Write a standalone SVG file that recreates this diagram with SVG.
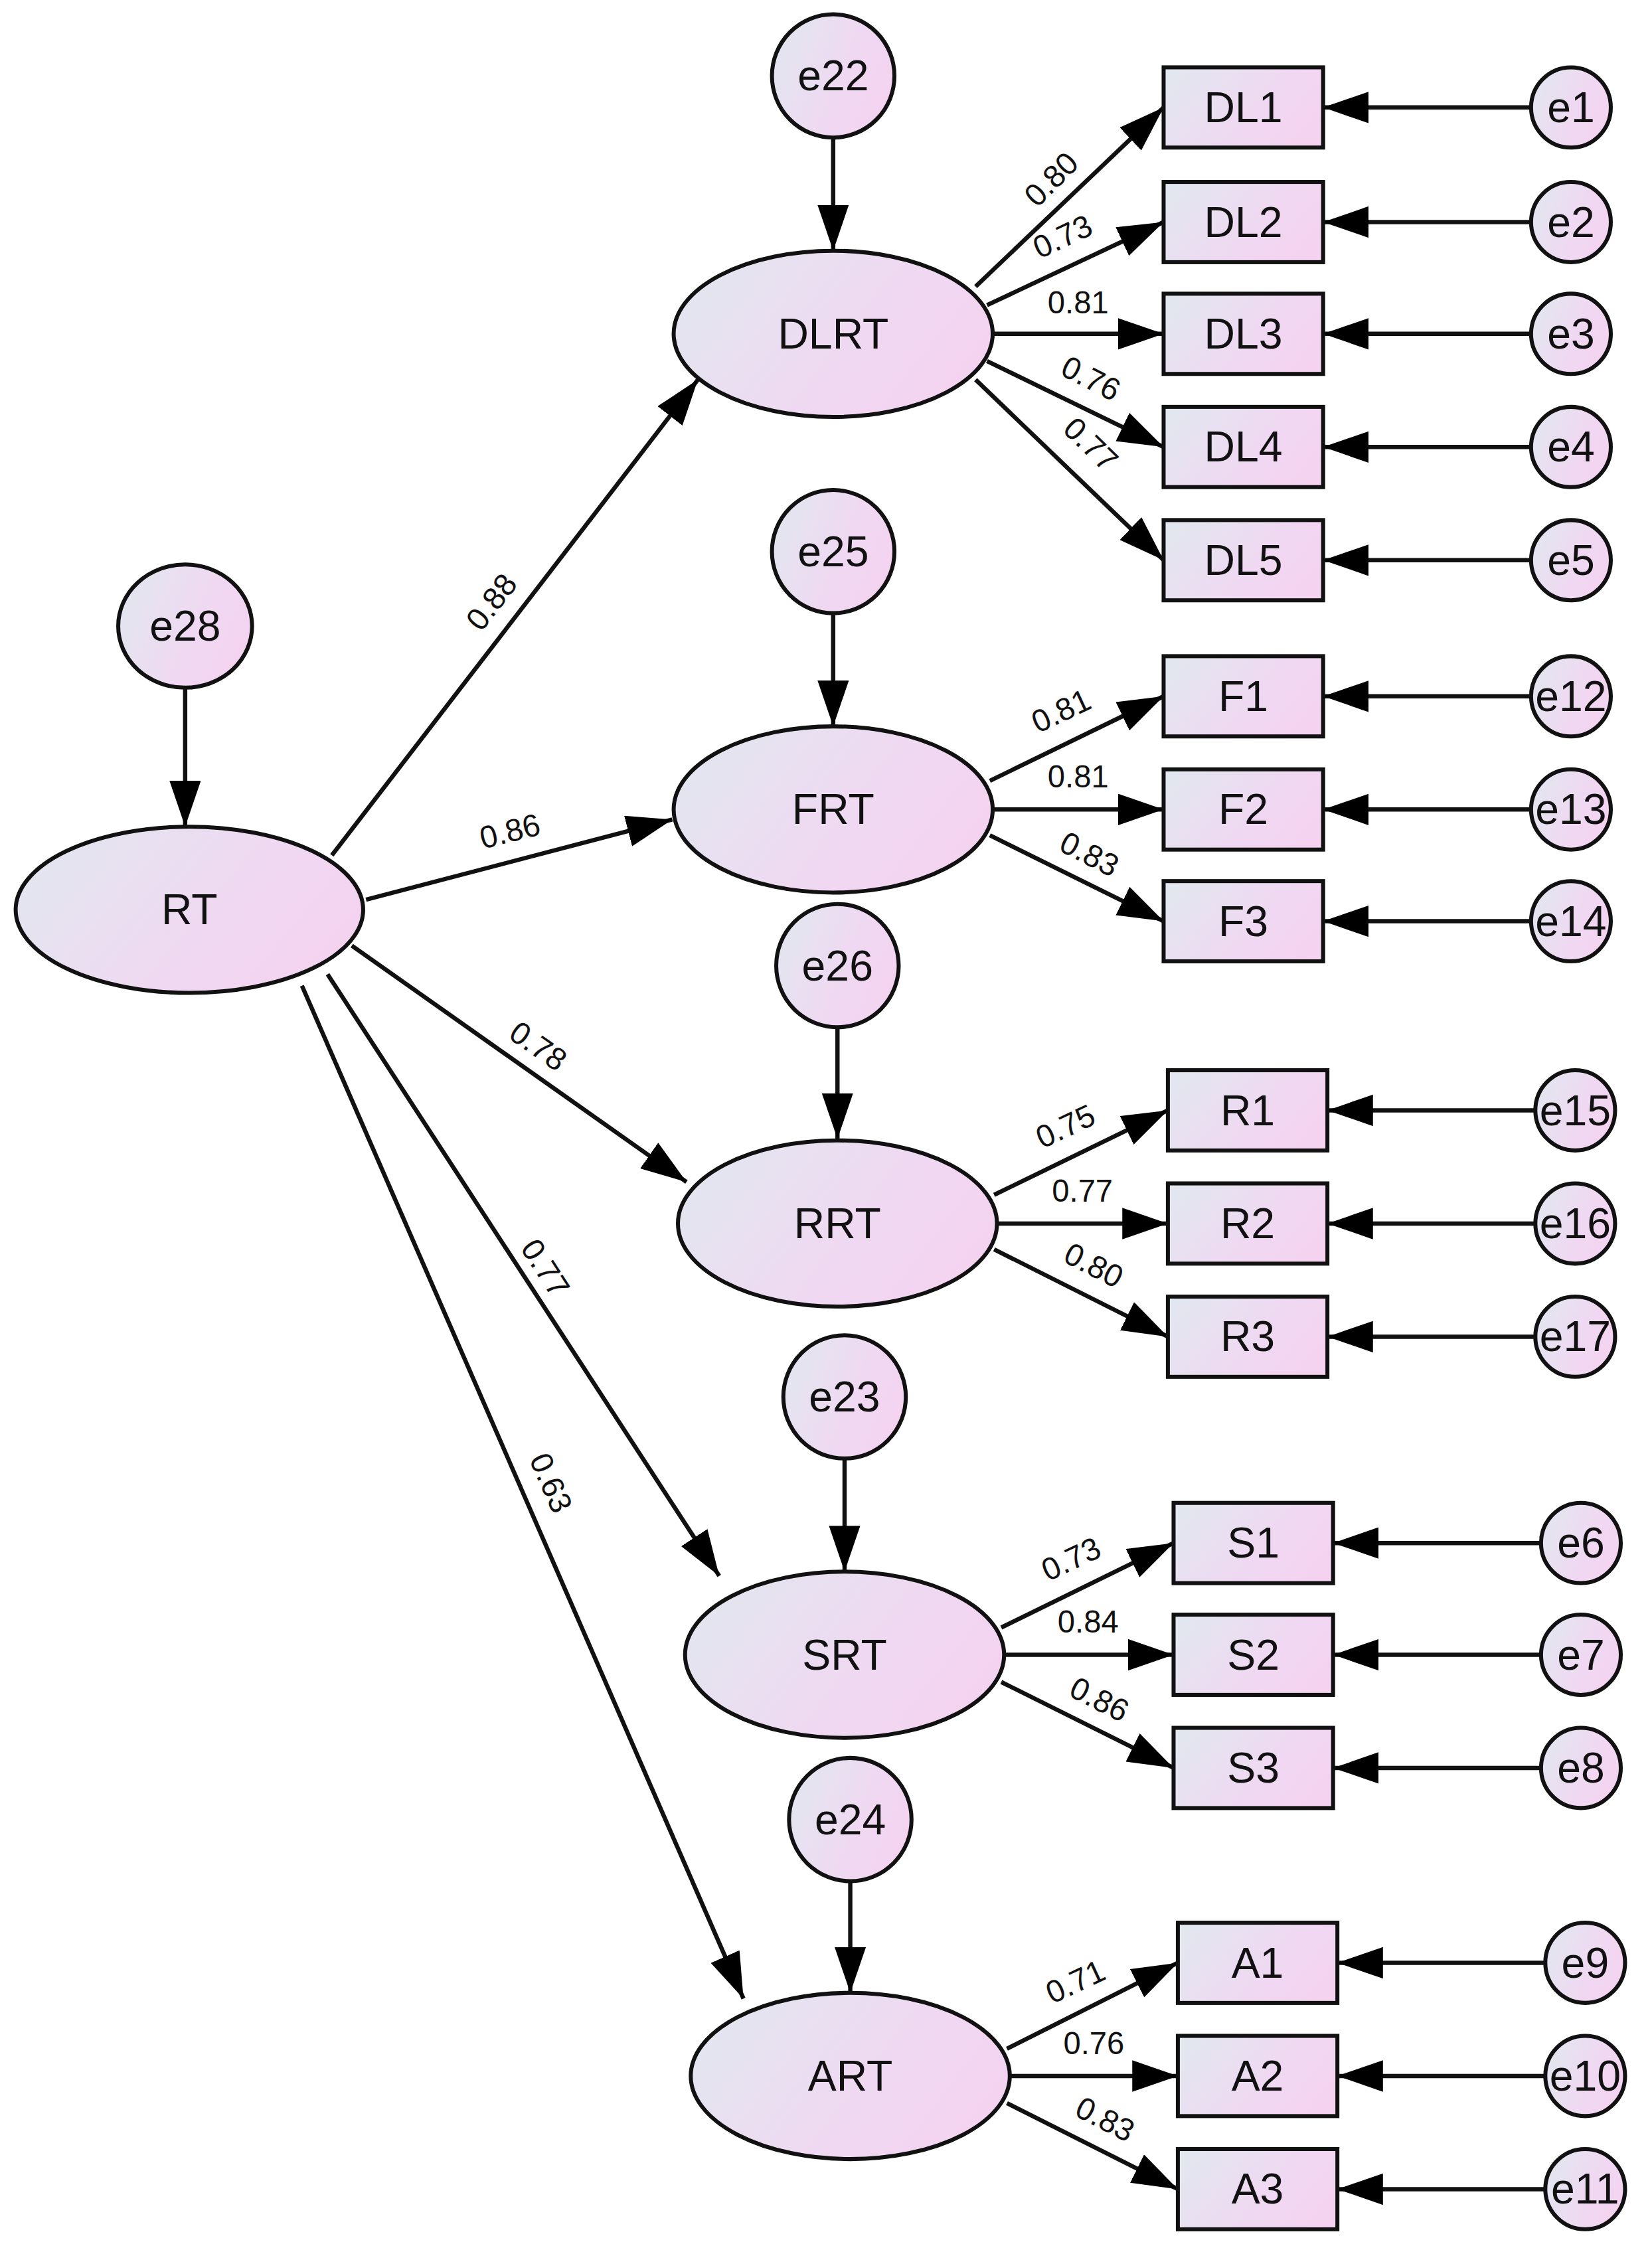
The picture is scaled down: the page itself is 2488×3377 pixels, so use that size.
<svg xmlns="http://www.w3.org/2000/svg" width="2488" height="3377" viewBox="0 0 2488 3377">
<defs>
<linearGradient id="g" x1="0" y1="0.3" x2="1" y2="0.7"><stop offset="0" stop-color="#e2e6ef"/><stop offset="0.6" stop-color="#f0d8f2"/><stop offset="1" stop-color="#f4d2f0"/></linearGradient>
<marker id="a" markerUnits="userSpaceOnUse" markerWidth="34" markerHeight="24" refX="32" refY="11" orient="auto"><path d="M0,0 L32,11 L0,22 Z" fill="#000"/></marker>
<style>
.n{fill:url(#g);stroke:#111;stroke-width:2.8}
.t{font-family:"Liberation Sans",Arial,sans-serif;font-size:30px;text-anchor:middle;dominant-baseline:central;fill:#111}
.l{font-family:"Liberation Sans",Arial,sans-serif;font-size:22px;text-anchor:middle;dominant-baseline:central;fill:#111}
.c line{stroke:#111;stroke-width:3;marker-end:url(#a)}
</style>
</defs>
<rect width="2488" height="3377" fill="#fff"/>
<g transform="scale(2.145,2.158)">
<g class="c" id="connectors">
<line x1="585" y1="96" x2="585" y2="175"/>
<line x1="585" y1="428" x2="585" y2="507"/>
<line x1="588" y1="717" x2="588" y2="795"/>
<line x1="593" y1="1018" x2="593" y2="1097"/>
<line x1="597" y1="1313" x2="597" y2="1391"/>
<line x1="130" y1="480" x2="130" y2="577"/>
<line x1="233" y1="597" x2="490" y2="265"/>
<line x1="257" y1="628" x2="472" y2="572"/>
<line x1="247" y1="660" x2="482" y2="825"/>
<line x1="230" y1="680" x2="505" y2="1100"/>
<line x1="212" y1="688" x2="522" y2="1395"/>
<line x1="685" y1="200" x2="817" y2="75"/>
<line x1="693" y1="213" x2="817" y2="155"/>
<line x1="697" y1="233" x2="817" y2="233"/>
<line x1="693" y1="252" x2="817" y2="312"/>
<line x1="685" y1="265" x2="817" y2="391"/>
<line x1="695" y1="545" x2="817" y2="486"/>
<line x1="697" y1="565" x2="817" y2="565"/>
<line x1="695" y1="583" x2="817" y2="643"/>
<line x1="698" y1="834" x2="820" y2="775"/>
<line x1="700" y1="854" x2="820" y2="854"/>
<line x1="698" y1="872" x2="820" y2="933"/>
<line x1="703" y1="1136" x2="824" y2="1077"/>
<line x1="705" y1="1155" x2="824" y2="1155"/>
<line x1="703" y1="1174" x2="824" y2="1234"/>
<line x1="707" y1="1430" x2="827" y2="1370"/>
<line x1="709" y1="1449" x2="827" y2="1449"/>
<line x1="707" y1="1468" x2="827" y2="1528"/>
<line x1="1075" y1="75" x2="929" y2="75"/>
<line x1="1075" y1="155" x2="929" y2="155"/>
<line x1="1075" y1="233" x2="929" y2="233"/>
<line x1="1075" y1="312" x2="929" y2="312"/>
<line x1="1075" y1="391" x2="929" y2="391"/>
<line x1="1075" y1="486" x2="929" y2="486"/>
<line x1="1075" y1="565" x2="929" y2="565"/>
<line x1="1075" y1="643" x2="929" y2="643"/>
<line x1="1078" y1="775" x2="932" y2="775"/>
<line x1="1078" y1="854" x2="932" y2="854"/>
<line x1="1078" y1="933" x2="932" y2="933"/>
<line x1="1082" y1="1077" x2="936" y2="1077"/>
<line x1="1082" y1="1155" x2="936" y2="1155"/>
<line x1="1082" y1="1234" x2="936" y2="1234"/>
<line x1="1085" y1="1370" x2="939" y2="1370"/>
<line x1="1085" y1="1449" x2="939" y2="1449"/>
<line x1="1085" y1="1528" x2="939" y2="1528"/>
</g>
<g id="labels">
<text class="l" transform="translate(345,420) rotate(-52)">0.88</text>
<text class="l" transform="translate(358,580) rotate(-14)">0.86</text>
<text class="l" transform="translate(378,730) rotate(35)">0.78</text>
<text class="l" transform="translate(383,885) rotate(57)">0.77</text>
<text class="l" transform="translate(387,1035) rotate(66)">0.63</text>
<text class="l" transform="translate(738,125) rotate(-45)">0.80</text>
<text class="l" transform="translate(746,165) rotate(-25)">0.73</text>
<text class="l" transform="translate(757,211)">0.81</text>
<text class="l" transform="translate(766,264) rotate(27)">0.76</text>
<text class="l" transform="translate(766,310) rotate(44)">0.77</text>
<text class="l" transform="translate(745,496) rotate(-25)">0.81</text>
<text class="l" transform="translate(757,542)">0.81</text>
<text class="l" transform="translate(765,596) rotate(27)">0.83</text>
<text class="l" transform="translate(748,786) rotate(-25)">0.75</text>
<text class="l" transform="translate(760,831)">0.77</text>
<text class="l" transform="translate(768,883) rotate(27)">0.80</text>
<text class="l" transform="translate(752,1088) rotate(-25)">0.73</text>
<text class="l" transform="translate(764,1132)">0.84</text>
<text class="l" transform="translate(772,1186) rotate(27)">0.86</text>
<text class="l" transform="translate(755,1383) rotate(-25)">0.71</text>
<text class="l" transform="translate(768,1426)">0.76</text>
<text class="l" transform="translate(776,1479) rotate(27)">0.83</text>
</g>
<g id="RT"><ellipse class="n" cx="133" cy="635" rx="122" ry="58"/><text class="t" x="133" y="635">RT</text></g>
<g id="e28"><ellipse class="n" cx="130" cy="437" rx="47" ry="43"/><text class="t" x="130" y="437">e28</text></g>
<g id="DLRT"><ellipse class="n" cx="585" cy="233" rx="112" ry="58"/><text class="t" x="585" y="233">DLRT</text></g>
<g id="FRT"><ellipse class="n" cx="585" cy="565" rx="112" ry="58"/><text class="t" x="585" y="565">FRT</text></g>
<g id="RRT"><ellipse class="n" cx="588" cy="854" rx="112" ry="58"/><text class="t" x="588" y="854">RRT</text></g>
<g id="SRT"><ellipse class="n" cx="593" cy="1155" rx="112" ry="58"/><text class="t" x="593" y="1155">SRT</text></g>
<g id="ART"><ellipse class="n" cx="597" cy="1449" rx="112" ry="58"/><text class="t" x="597" y="1449">ART</text></g>
<g id="e22"><ellipse class="n" cx="585" cy="53" rx="43" ry="43"/><text class="t" x="585" y="53">e22</text></g>
<g id="e25"><ellipse class="n" cx="585" cy="385" rx="43" ry="43"/><text class="t" x="585" y="385">e25</text></g>
<g id="e26"><ellipse class="n" cx="588" cy="674" rx="43" ry="43"/><text class="t" x="588" y="674">e26</text></g>
<g id="e23"><ellipse class="n" cx="593" cy="975" rx="43" ry="43"/><text class="t" x="593" y="975">e23</text></g>
<g id="e24"><ellipse class="n" cx="597" cy="1270" rx="43" ry="43"/><text class="t" x="597" y="1270">e24</text></g>
<g id="DL1"><rect class="n" x="817" y="47" width="112" height="56"/><text class="t" x="873" y="75">DL1</text></g>
<g id="DL2"><rect class="n" x="817" y="127" width="112" height="56"/><text class="t" x="873" y="155">DL2</text></g>
<g id="DL3"><rect class="n" x="817" y="205" width="112" height="56"/><text class="t" x="873" y="233">DL3</text></g>
<g id="DL4"><rect class="n" x="817" y="284" width="112" height="56"/><text class="t" x="873" y="312">DL4</text></g>
<g id="DL5"><rect class="n" x="817" y="363" width="112" height="56"/><text class="t" x="873" y="391">DL5</text></g>
<g id="F1"><rect class="n" x="817" y="458" width="112" height="56"/><text class="t" x="873" y="486">F1</text></g>
<g id="F2"><rect class="n" x="817" y="537" width="112" height="56"/><text class="t" x="873" y="565">F2</text></g>
<g id="F3"><rect class="n" x="817" y="615" width="112" height="56"/><text class="t" x="873" y="643">F3</text></g>
<g id="R1"><rect class="n" x="820" y="747" width="112" height="56"/><text class="t" x="876" y="775">R1</text></g>
<g id="R2"><rect class="n" x="820" y="826" width="112" height="56"/><text class="t" x="876" y="854">R2</text></g>
<g id="R3"><rect class="n" x="820" y="905" width="112" height="56"/><text class="t" x="876" y="933">R3</text></g>
<g id="S1"><rect class="n" x="824" y="1049" width="112" height="56"/><text class="t" x="880" y="1077">S1</text></g>
<g id="S2"><rect class="n" x="824" y="1127" width="112" height="56"/><text class="t" x="880" y="1155">S2</text></g>
<g id="S3"><rect class="n" x="824" y="1206" width="112" height="56"/><text class="t" x="880" y="1234">S3</text></g>
<g id="A1"><rect class="n" x="827" y="1342" width="112" height="56"/><text class="t" x="883" y="1370">A1</text></g>
<g id="A2"><rect class="n" x="827" y="1421" width="112" height="56"/><text class="t" x="883" y="1449">A2</text></g>
<g id="A3"><rect class="n" x="827" y="1500" width="112" height="56"/><text class="t" x="883" y="1528">A3</text></g>
<g id="e1"><ellipse class="n" cx="1103" cy="75" rx="28" ry="28"/><text class="t" x="1103" y="75">e1</text></g>
<g id="e2"><ellipse class="n" cx="1103" cy="155" rx="28" ry="28"/><text class="t" x="1103" y="155">e2</text></g>
<g id="e3"><ellipse class="n" cx="1103" cy="233" rx="28" ry="28"/><text class="t" x="1103" y="233">e3</text></g>
<g id="e4"><ellipse class="n" cx="1103" cy="312" rx="28" ry="28"/><text class="t" x="1103" y="312">e4</text></g>
<g id="e5"><ellipse class="n" cx="1103" cy="391" rx="28" ry="28"/><text class="t" x="1103" y="391">e5</text></g>
<g id="e12"><ellipse class="n" cx="1103" cy="486" rx="28" ry="28"/><text class="t" x="1103" y="486">e12</text></g>
<g id="e13"><ellipse class="n" cx="1103" cy="565" rx="28" ry="28"/><text class="t" x="1103" y="565">e13</text></g>
<g id="e14"><ellipse class="n" cx="1103" cy="643" rx="28" ry="28"/><text class="t" x="1103" y="643">e14</text></g>
<g id="e15"><ellipse class="n" cx="1106" cy="775" rx="28" ry="28"/><text class="t" x="1106" y="775">e15</text></g>
<g id="e16"><ellipse class="n" cx="1106" cy="854" rx="28" ry="28"/><text class="t" x="1106" y="854">e16</text></g>
<g id="e17"><ellipse class="n" cx="1106" cy="933" rx="28" ry="28"/><text class="t" x="1106" y="933">e17</text></g>
<g id="e6"><ellipse class="n" cx="1110" cy="1077" rx="28" ry="28"/><text class="t" x="1110" y="1077">e6</text></g>
<g id="e7"><ellipse class="n" cx="1110" cy="1155" rx="28" ry="28"/><text class="t" x="1110" y="1155">e7</text></g>
<g id="e8"><ellipse class="n" cx="1110" cy="1234" rx="28" ry="28"/><text class="t" x="1110" y="1234">e8</text></g>
<g id="e9"><ellipse class="n" cx="1113" cy="1370" rx="28" ry="28"/><text class="t" x="1113" y="1370">e9</text></g>
<g id="e10"><ellipse class="n" cx="1113" cy="1449" rx="28" ry="28"/><text class="t" x="1113" y="1449">e10</text></g>
<g id="e11"><ellipse class="n" cx="1113" cy="1528" rx="28" ry="28"/><text class="t" x="1113" y="1528">e11</text></g>
</g>
</svg>
